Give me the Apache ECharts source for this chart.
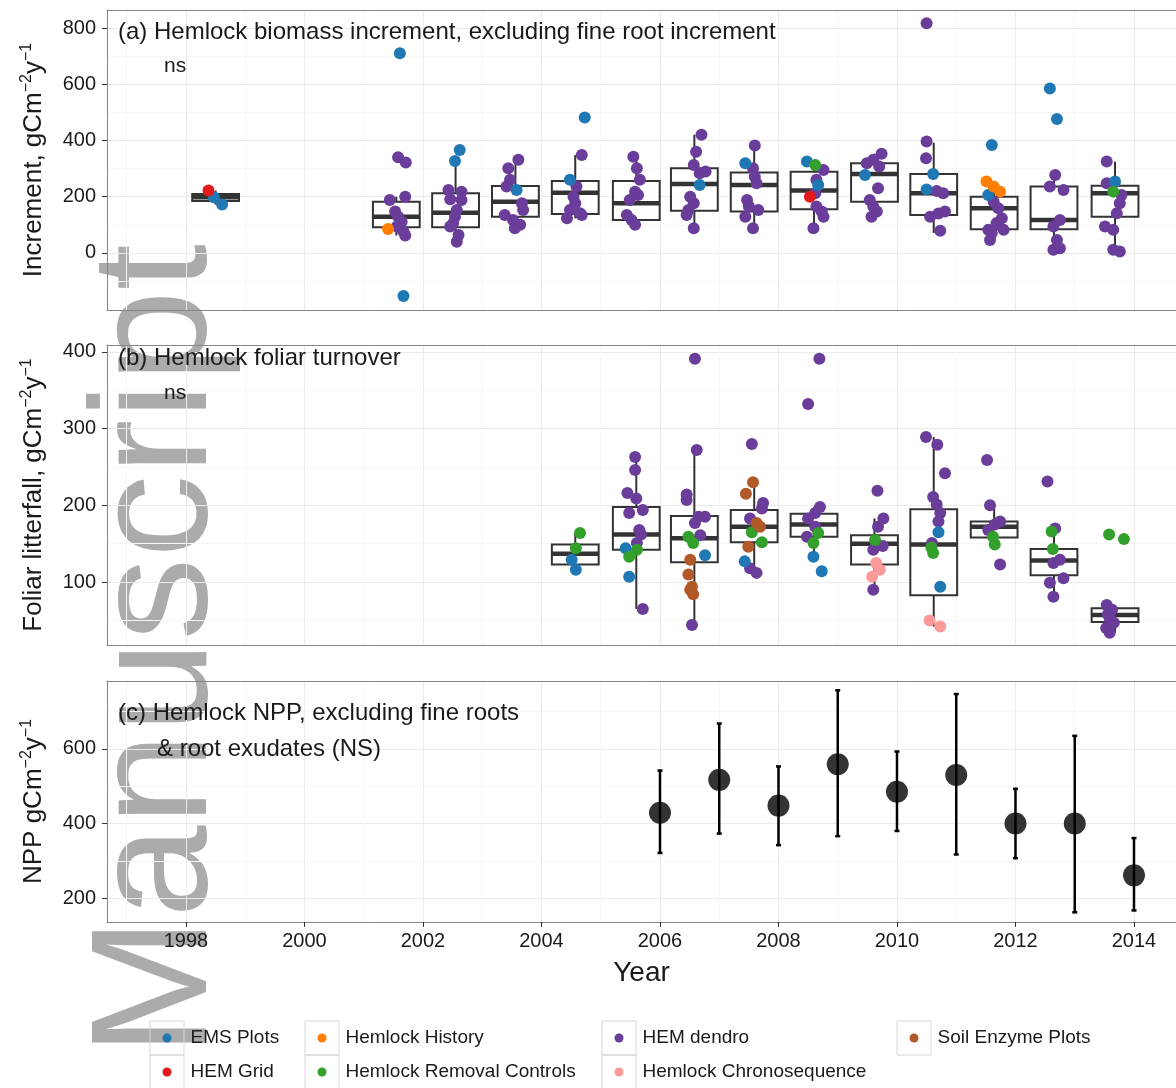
<!DOCTYPE html>
<html>
<head>
<meta charset="utf-8">
<script src="https://cdn.jsdelivr.net/npm/echarts@6/dist/echarts.min.js"></script>
<style>html,body{margin:0;padding:0;background:#fff}#chart{width:1176px;height:1088px}</style>
</head>
<body>
<div id="chart"></div>
<script>
// ---------- DATA ----------
const groupNames = ['HEM dendro','EMS Plots','HEM Grid','Hemlock History','Hemlock Removal Controls','Soil Enzyme Plots','Hemlock Chronosequence'];
const groupColors = ['#6a3d9a','#1f78b4','#e31a1c','#ff7f00','#33a02c','#b15928','#fb9a99'];

const yearTicks = [1998,2000,2002,2004,2006,2008,2010,2012,2014];
const ticksA = [0,200,400,600,800];
const ticksB = [100,200,300,400];
const ticksC = [200,400,600];

// Panel (a) boxplots: x position, lower whisker, Q1, median, Q3, upper whisker
const boxXA = [1998.5,2001.55,2002.55,2003.56,2004.57,2005.6,2006.58,2007.59,2008.6,2009.62,2010.62,2011.64,2012.65,2013.68];
const lowA  = [172,62,40,88,123,94,88,88,88,129,71,46,11,5];
const q1A   = [185,91,91,129,138,117,150,147,155,182,135,84,84,129];
const medA  = [198,129,143,182,214,177,245,242,222,281,212,159,117,212];
const q3A   = [210,182,212,238,256,256,301,286,289,319,281,200,236,239];
const highA = [222,200,325,331,348,342,420,382,322,353,392,248,277,325];

// Panel (a) points [year position, value]
const aDendro = [
 [2001.58,340],[2001.71,322],[2001.70,200],[2001.44,188],[2001.53,147],[2001.58,129],[2001.64,111],[2001.56,94],[2001.67,76],[2001.70,62],
 [2002.43,224],[2002.65,218],[2002.46,191],[2002.65,188],[2002.57,153],[2002.54,129],[2002.51,106],[2002.46,94],[2002.60,64],[2002.57,40],
 [2003.61,331],[2003.44,301],[2003.47,260],[2003.41,236],[2003.67,177],[2003.69,153],[2003.38,135],[2003.52,117],[2003.64,100],[2003.55,88],
 [2004.68,348],[2004.59,236],[2004.54,200],[2004.57,177],[2004.48,153],[2004.65,141],[2004.43,123],[2004.68,135],
 [2005.55,342],[2005.61,301],[2005.66,260],[2005.58,218],[2005.63,206],[2005.49,188],[2005.44,135],[2005.52,117],[2005.58,100],
 [2006.70,420],[2006.61,360],[2006.57,313],[2006.67,283],[2006.77,290],[2006.51,200],[2006.57,177],[2006.48,153],[2006.45,135],[2006.57,88],
 [2007.60,382],[2007.57,301],[2007.60,271],[2007.63,248],[2007.47,188],[2007.50,165],[2007.66,153],[2007.44,129],[2007.57,88],
 [2008.76,295],[2008.64,260],[2008.62,212],[2008.64,165],[2008.73,147],[2008.76,129],[2008.59,88],
 [2009.74,353],[2009.60,331],[2009.49,319],[2009.70,307],[2009.68,230],[2009.54,188],[2009.60,165],[2009.66,147],[2009.57,129],
 [2010.50,817],[2010.50,396],[2010.49,337],[2010.67,220],[2010.78,212],[2010.56,129],[2010.70,140],[2010.81,147],[2010.73,79],
 [2011.63,182],[2011.71,159],[2011.77,123],[2011.68,106],[2011.54,82],[2011.80,82],[2011.60,71],[2011.57,46],
 [2012.67,277],[2012.58,236],[2012.81,224],[2012.75,117],[2012.64,94],[2012.70,46],[2012.64,11],[2012.75,17],
 [2013.54,325],[2013.54,248],[2013.79,206],[2013.76,177],[2013.71,141],[2013.51,94],[2013.65,82],[2013.65,11],[2013.76,5]
];
const aEMS = [[1998.47,198],[1998.61,172],[2001.61,710],[2001.67,-153],[2002.62,366],[2002.54,327],[2003.58,224],
 [2004.73,482],[2004.48,260],[2006.67,242],[2007.44,319],[2008.48,325],[2008.67,242],[2009.46,277],
 [2010.61,281],[2010.50,226],[2011.60,384],[2011.54,206],[2012.58,585],[2012.70,476],[2013.68,254]];
const aGrid = [[1998.38,222],[2008.53,200]];
const aHistory = [[2001.41,85],[2011.51,254],[2011.63,236],[2011.74,218]];
const aRemoval = [[2008.62,313],[2013.65,218]];

// Panel (b) boxplots
const boxXB = [2004.57,2005.6,2006.58,2007.59,2008.6,2009.62,2010.62,2011.64,2012.65,2013.68];
const lowB  = [116,65,44,112,133,90,42,149,81,34];
const q1B   = [123,142,126,152,159,123,83,158,109,48];
const medB  = [137,162,157,172,175,150,149,172,128,57];
const q3B   = [149,198,186,194,189,161,195,179,143,66];
const highB = [164,263,272,230,198,183,289,200,166,70];

// Panel (b) points
const bDendro = [
 [2005.58,263],[2005.58,246],[2005.45,216],[2005.60,209],[2005.71,194],[2005.48,190],[2005.65,168],[2005.68,162],[2005.61,151],[2005.71,65],
 [2006.59,391],[2006.62,272],[2006.45,214],[2006.45,207],[2006.65,185],[2006.76,185],[2006.59,177],[2006.68,161],[2006.54,44],
 [2007.55,280],[2007.74,203],[2007.72,196],[2007.52,183],[2007.52,118],[2007.63,112],
 [2008.69,391],[2008.50,332],[2008.70,198],[2008.62,190],[2008.50,183],[2008.62,172],[2008.48,159],
 [2009.67,219],[2009.77,183],[2009.68,172],[2009.60,142],[2009.76,147],[2009.60,90],
 [2010.49,289],[2010.68,279],[2010.81,242],[2010.61,211],[2010.67,201],[2010.73,190],[2010.70,179],[2010.59,151],
 [2011.52,259],[2011.57,200],[2011.74,179],[2011.65,175],[2011.54,168],[2011.74,123],
 [2012.54,231],[2012.67,170],[2012.75,129],[2012.64,125],[2012.81,105],[2012.58,99],[2012.64,81],
 [2013.54,70],[2013.63,64],[2013.56,58],[2013.59,53],[2013.66,47],[2013.53,40],[2013.59,34]
];
const bEMS = [[2004.51,129],[2004.58,116],[2005.42,144],[2005.48,107],[2006.76,135],[2007.43,127],[2008.59,133],[2008.73,114],[2010.70,165],[2010.73,94]];
const bRemoval = [[2004.65,164],[2004.58,144],[2005.61,142],[2005.48,133],[2006.48,159],[2006.56,151],[2007.55,165],[2007.72,152],
 [2008.67,164],[2008.59,151],[2009.63,155],[2010.61,138],[2010.58,145],[2011.62,159],[2011.65,149],[2012.61,166],[2012.63,143],[2013.58,162],[2013.83,156]];
const bEnzyme = [[2006.51,129],[2006.48,110],[2006.54,94],[2006.51,90],[2006.56,84],[2007.57,230],[2007.45,215],[2007.63,177],[2007.69,172],[2007.49,146]];
const bChrono = [[2009.65,125],[2009.71,116],[2009.58,107],[2010.55,50],[2010.73,42]];

// Panel (c) NPP mean and error bar limits
const yearsC = [2006,2007,2008,2009,2010,2011,2012,2013,2014];
const nppMean = [429,517,448,559,485,530,400,400,261];
const nppLow  = [321,373,342,366,380,317,307,162,167];
const nppHigh = [542,668,553,757,593,747,493,635,361];

// ---------- CHART ----------
const F = '"Liberation Sans", Arial, sans-serif';
const TXT = '#1a1a1a';
const BORDER = '#858585';
const XMIN = 1996.667, XMAX = 2014.709;
const chart = echarts.init(document.getElementById('chart'), null, {renderer: 'canvas'});

function boxRender(params, api) {
  const x = api.value(0);
  const lo = api.coord([x, api.value(1)]);
  const q1 = api.coord([x, api.value(2)]);
  const md = api.coord([x, api.value(3)]);
  const q3 = api.coord([x, api.value(4)]);
  const hi = api.coord([x, api.value(5)]);
  const w = api.size([0.79, 0])[0];
  const st = {stroke: '#333', lineWidth: 2};
  return {type: 'group', children: [
    {type: 'line', shape: {x1: lo[0], y1: lo[1], x2: q1[0], y2: q1[1]}, style: st},
    {type: 'line', shape: {x1: q3[0], y1: q3[1], x2: hi[0], y2: hi[1]}, style: st},
    {type: 'rect', shape: {x: q3[0] - w / 2, y: q3[1], width: w, height: q1[1] - q3[1]}, style: {fill: '#fff', stroke: '#333', lineWidth: 2}},
    {type: 'line', shape: {x1: md[0] - w / 2, y1: md[1], x2: md[0] + w / 2, y2: md[1]}, style: {stroke: '#333', lineWidth: 4.5}}
  ]};
}
function errRender(params, api) {
  const x = api.value(0);
  const lo = api.coord([x, api.value(1)]);
  const hi = api.coord([x, api.value(2)]);
  const c = 2.5;
  const st = {stroke: '#000', lineWidth: 2.5};
  return {type: 'group', children: [
    {type: 'line', shape: {x1: lo[0], y1: lo[1], x2: hi[0], y2: hi[1]}, style: st},
    {type: 'line', shape: {x1: lo[0] - c, y1: lo[1], x2: lo[0] + c, y2: lo[1]}, style: st},
    {type: 'line', shape: {x1: hi[0] - c, y1: hi[1], x2: hi[0] + c, y2: hi[1]}, style: st}
  ]};
}

const gridCommon = {left: 107, right: 0, show: false};
const splitL = {show: true, lineStyle: {color: '#ebebeb', width: 1}};
const minorSplitL = {show: true, lineStyle: {color: '#f6f6f6', width: 1}};
const fmt = v => String(v);

function xAxisDef(idx, showLabels) {
  return {
    type: 'value', gridIndex: idx, min: XMIN, max: XMAX, splitNumber: 9, position: 'bottom',
    axisLine: {show: true, onZero: false, lineStyle: {color: BORDER, width: 1}},
    axisTick: {show: showLabels, customValues: yearTicks, length: 5, lineStyle: {color: '#333', width: 1}},
    axisLabel: {show: showLabels, customValues: yearTicks, formatter: fmt, fontSize: 20, color: TXT, fontFamily: F, margin: 9},
    splitLine: splitL, minorTick: {show: false, splitNumber: 2}, minorSplitLine: minorSplitL,
    name: showLabels ? 'Year' : '', nameLocation: 'middle', nameGap: 37,
    nameTextStyle: {fontSize: 28, color: TXT, fontFamily: F}
  };
}
function topAxisDef(idx) {
  return {
    type: 'value', gridIndex: idx, min: XMIN, max: XMAX, position: 'top',
    axisLine: {show: true, onZero: false, lineStyle: {color: BORDER, width: 1}},
    axisTick: {show: false}, axisLabel: {show: false}, splitLine: {show: false}
  };
}
function yName(main) {
  return '{t|' + main + ' gCm}{s|\u22122}{t|y}{s|\u22121}';
}
function yAxisDef(idx, min, max, split, ticks, name) {
  return {
    type: 'value', gridIndex: idx, min: min, max: max, splitNumber: split, position: 'left',
    axisLine: {show: true, onZero: false, lineStyle: {color: BORDER, width: 1}},
    axisTick: {show: true, customValues: ticks, length: 5, lineStyle: {color: '#333', width: 1}},
    axisLabel: {customValues: ticks, formatter: fmt, fontSize: 20, color: TXT, fontFamily: F, margin: 11},
    splitLine: splitL, minorTick: {show: false, splitNumber: 2}, minorSplitLine: minorSplitL,
    name: name, nameLocation: 'middle', nameRotate: 90, nameGap: 58,
    nameTextStyle: {color: TXT, fontFamily: F, rich: {
      t: {fontSize: 26, color: TXT, fontFamily: F, lineHeight: 30},
      s: {fontSize: 16, color: TXT, fontFamily: F, verticalAlign: 'top', lineHeight: 16}
    }}
  };
}

function scat(name, data, xi, yi, size) {
  const gi = groupNames.indexOf(name);
  return {name: name, type: 'scatter', xAxisIndex: xi, yAxisIndex: yi, data: data, symbol: 'circle',
    symbolSize: size, itemStyle: {color: groupColors[gi], opacity: 1}, z: 3, silent: true, animation: false};
}

// legend: [name, dot centre x, row centre y]
const legendItems = [
  ['EMS Plots', 167, 1038], ['Hemlock History', 322, 1038], ['HEM dendro', 619, 1038], ['Soil Enzyme Plots', 914, 1038],
  ['HEM Grid', 167, 1072], ['Hemlock Removal Controls', 322, 1072], ['Hemlock Chronosequence', 619, 1072]
];

const titleStyle = {fontSize: 24, fontWeight: 'normal', color: TXT, fontFamily: F};
const nsStyle = {fontSize: 21, fontWeight: 'normal', color: TXT, fontFamily: F};

const option = {
  backgroundColor: '#fff',
  animation: false,
  title: [
    {text: '(a) Hemlock biomass increment, excluding fine root increment', left: 118, top: 20, padding: 0, textStyle: titleStyle},
    {text: 'ns', left: 164, top: 56, padding: 0, textStyle: nsStyle},
    {text: '(b) Hemlock foliar turnover', left: 118, top: 346, padding: 0, textStyle: titleStyle},
    {text: 'ns', left: 164, top: 383, padding: 0, textStyle: nsStyle},
    {text: '(c) Hemlock NPP, excluding fine roots', left: 118, top: 701, padding: 0, textStyle: titleStyle},
    {text: '& root exudates (NS)', left: 157, top: 737, padding: 0, textStyle: titleStyle}
  ],
  grid: [
    Object.assign({top: 10, height: 300}, gridCommon),
    Object.assign({top: 345, height: 300}, gridCommon),
    Object.assign({top: 681, height: 241}, gridCommon)
  ],
  xAxis: [xAxisDef(0, false), xAxisDef(1, false), xAxisDef(2, true), topAxisDef(0), topAxisDef(1), topAxisDef(2)],
  yAxis: [
    yAxisDef(0, -203, 864, 5, ticksA, yName('Increment,')),
    yAxisDef(1, 18, 409, 4, ticksB, yName('Foliar litterfall,')),
    yAxisDef(2, 136, 782, 3, ticksC, yName('NPP'))
  ],
  legend: legendItems.map(([n, cx, cy]) => ({
    data: [n], left: cx - 4.5, top: cy - 11, padding: 0, itemWidth: 9, itemHeight: 9, icon: 'circle',
    textStyle: {fontSize: 19, color: TXT, fontFamily: F, padding: [0, 0, 0, 14], lineHeight: 22}
  })),
  graphic: [
    {type: 'text', x: 160, y: 650, rotation: Math.PI / 2, z: -10, silent: true,
     style: {text: 'Manuscript', font: '166px "Liberation Sans", Arial, sans-serif', fill: '#ababab',
             textAlign: 'center', textVerticalAlign: 'middle', align: 'center', verticalAlign: 'middle'}}
  ].concat(legendItems.map(([n, cx, cy]) => ({type: 'rect', z: 1, silent: true,
     shape: {x: cx - 17, y: cy - 17, width: 34, height: 34}, style: {fill: 'none', stroke: '#d6d6d6', lineWidth: 1}}))),
  series: [
    {type: 'custom', name: 'boxA', xAxisIndex: 0, yAxisIndex: 0, renderItem: boxRender, z: 2, silent: true,
     data: boxXA.map((x, i) => [x, lowA[i], q1A[i], medA[i], q3A[i], highA[i]]), encode: {x: 0, y: [1, 2, 3, 4, 5]}},
    {type: 'custom', name: 'boxB', xAxisIndex: 1, yAxisIndex: 1, renderItem: boxRender, z: 2, silent: true,
     data: boxXB.map((x, i) => [x, lowB[i], q1B[i], medB[i], q3B[i], highB[i]]), encode: {x: 0, y: [1, 2, 3, 4, 5]}},
    scat('HEM dendro', aDendro, 0, 0, 12),
    scat('EMS Plots', aEMS, 0, 0, 12),
    scat('HEM Grid', aGrid, 0, 0, 12),
    scat('Hemlock History', aHistory, 0, 0, 12),
    scat('Hemlock Removal Controls', aRemoval, 0, 0, 12),
    scat('HEM dendro', bDendro, 1, 1, 12),
    scat('EMS Plots', bEMS, 1, 1, 12),
    scat('Hemlock Removal Controls', bRemoval, 1, 1, 12),
    scat('Soil Enzyme Plots', bEnzyme, 1, 1, 12),
    scat('Hemlock Chronosequence', bChrono, 1, 1, 12),
    {type: 'custom', name: 'errC', xAxisIndex: 2, yAxisIndex: 2, renderItem: errRender, z: 2, silent: true,
     data: yearsC.map((x, i) => [x, nppLow[i], nppHigh[i]]), encode: {x: 0, y: [1, 2]}},
    {type: 'scatter', name: 'NPP', xAxisIndex: 2, yAxisIndex: 2, symbolSize: 22, itemStyle: {color: '#000'}, z: 3, silent: true,
     data: yearsC.map((x, i) => [x, nppMean[i]])}
  ]
};
chart.setOption(option);
</script>
</body>
</html>
